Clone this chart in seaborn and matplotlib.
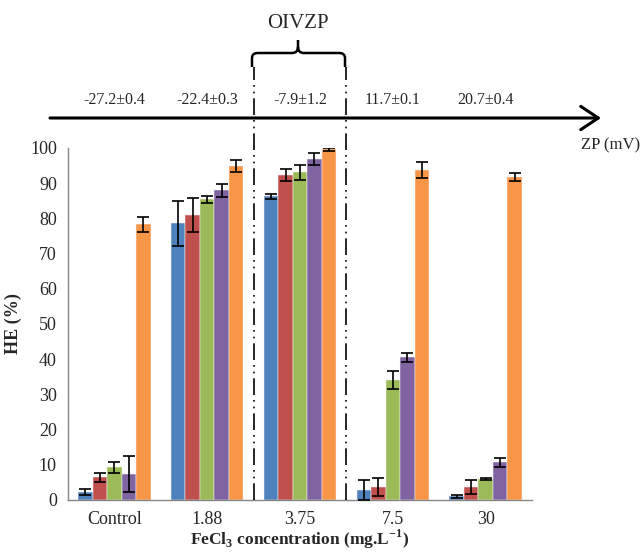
import numpy as np
import pandas as pd
import seaborn as sns
import matplotlib.pyplot as plt
from matplotlib.path import Path
from matplotlib.patches import PathPatch
from matplotlib import transforms

# Data
concentrations = ['Control', '1.88', '3.75', '7.5', '30']
series = ['s1', 's2', 's3', 's4', 's5']
colors = ['#4F81BD', '#C0504D', '#9BBB59', '#8064A2', '#F79646']
he_s1 = [2.2, 78.6, 86.3, 2.8, 1.0]
he_s2 = [6.5, 81.0, 92.2, 3.7, 3.6]
he_s3 = [9.3, 85.5, 93.1, 34.0, 6.0]
he_s4 = [7.3, 88.0, 96.8, 40.5, 10.7]
he_s5 = [78.3, 94.9, 99.6, 93.8, 91.8]
err_s1 = [0.8, 6.3, 0.7, 2.8, 0.4]
err_s2 = [1.3, 4.9, 1.7, 2.5, 2.0]
err_s3 = [1.6, 1.0, 2.2, 2.6, 0.3]
err_s4 = [5.1, 1.9, 1.7, 1.2, 1.3]
err_s5 = [2.2, 1.6, 0.4, 2.3, 1.1]
zp_labels = ['-27.2\u00b10.4', '-22.4\u00b10.3', '-7.9\u00b11.2', '11.7\u00b10.1', '20.7\u00b10.4']

W, H = 643, 554


def px(x, y):
    # pixel position (top-left origin) -> figure fraction
    return x / W, 1 - y / H


def main():
    sns.set_style('white')
    plt.rcParams['font.family'] = ['Liberation Serif', 'DejaVu Serif']
    plt.rcParams['mathtext.fontset'] = 'custom'
    plt.rcParams['mathtext.rm'] = 'Liberation Serif'
    plt.rcParams['mathtext.bf'] = 'Liberation Serif:bold'

    values = [he_s1, he_s2, he_s3, he_s4, he_s5]
    errors = [err_s1, err_s2, err_s3, err_s4, err_s5]
    rows = []
    for s, vals in zip(series, values):
        for c, v in zip(concentrations, vals):
            rows.append({'conc': c, 'series': s, 'HE': v})
    df = pd.DataFrame(rows)

    fig = plt.figure(figsize=(W / 100, H / 100), dpi=100)
    ax = fig.add_axes([68 / W, 54 / H, 464 / W, 352 / H])

    sns.barplot(data=df, x='conc', y='HE', hue='series', palette=colors,
                order=concentrations, hue_order=series, errorbar=None,
                width=0.78, gap=0, saturation=1, legend=False,
                edgecolor='#f4f4f4', linewidth=0.35, ax=ax)

    # error bars on top of each bar
    for cont, errs in zip(ax.containers, errors):
        for bar, e in zip(cont, errs):
            xc = bar.get_x() + bar.get_width() / 2
            ax.errorbar(xc, bar.get_height(), yerr=e, color='black',
                        lw=1.2, capsize=4, capthick=1.2, zorder=5)

    ax.set_ylim(0, 100)
    ax.set_xlim(-0.5, 4.5)
    ax.set_yticks(np.arange(0, 101, 10))
    ax.set_xticks(np.arange(-0.5, 5, 1), minor=True)
    ax.tick_params(axis='x', which='major', length=0, labelsize=13, pad=8)
    ax.tick_params(axis='x', which='minor', length=6, color='#868686', width=1, direction='out')
    ax.tick_params(axis='y', length=5, color='#868686', width=1, direction='out', labelsize=13, pad=3)
    for side in ['top', 'right']:
        ax.spines[side].set_visible(False)
    for side in ['left', 'bottom']:
        ax.spines[side].set_color('#868686')
        ax.spines[side].set_linewidth(1)
    ax.set_ylabel('HE (%)', fontsize=13, fontweight='bold', labelpad=6)
    ax.set_xlabel(r'FeCl$_\mathbf{3}$ concentration (mg.L$^\mathbf{-1}$)',
                  fontsize=12.5, fontweight='bold', labelpad=0)

    # dash-dot-dot lines marking the OIVZP region
    for xb in [1.5, 2.5]:
        ax.plot([xb, xb], [0, 123], color='black', lw=1.2, clip_on=False,
                linestyle=(0, (10, 3, 1, 3, 1, 3)), zorder=6)

    # zeta potential axis with arrow
    ax.annotate('', xy=px(601, 118), xytext=px(50, 118), xycoords='figure fraction',
                arrowprops=dict(arrowstyle='->, head_length=0.45, head_width=0.3',
                                lw=2.2, color='black', mutation_scale=28,
                                shrinkA=0, shrinkB=0))
    fig.text(*px(640, 145), 'ZP (mV)', ha='right', va='center', fontsize=12)
    blend = transforms.blended_transform_factory(ax.transData, fig.transFigure)
    for i, lab in enumerate(zp_labels):
        ax.text(i, px(0, 100)[1], lab, transform=blend, ha='center', va='center', fontsize=11.5)

    # curly brace over the OIVZP region
    verts = [px(252, 67), px(252, 58), px(252, 53), px(258, 53),
             px(292, 53), px(298, 53), px(298, 47), px(298, 40),
             px(298, 47), px(298, 53), px(304, 53),
             px(339, 53), px(345, 53), px(345, 58), px(345, 67)]
    codes = [Path.MOVETO, Path.LINETO, Path.CURVE3, Path.CURVE3,
             Path.LINETO, Path.CURVE3, Path.CURVE3, Path.LINETO,
             Path.MOVETO, Path.CURVE3, Path.CURVE3,
             Path.LINETO, Path.CURVE3, Path.CURVE3, Path.LINETO]
    brace = PathPatch(Path(verts, codes), transform=fig.transFigure, fill=False,
                      lw=1.8, color='black')
    fig.patches.append(brace)
    fig.text(*px(298, 23), 'OIVZP', ha='center', va='center', fontsize=15)

    fig.savefig('out.png', dpi=100)


if __name__ == '__main__':
    main()
